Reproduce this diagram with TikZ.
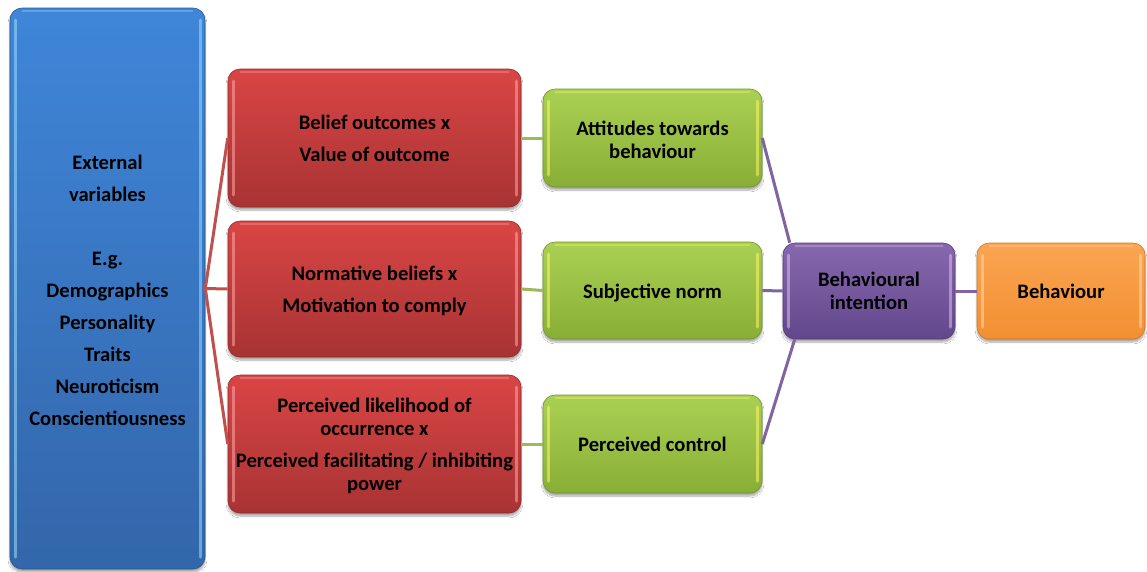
\documentclass[tikz,border=0pt]{standalone}
\usepackage{fontspec}
\setmainfont{Carlito}
\usetikzlibrary{shadows.blur}

\definecolor{blueT}{HTML}{3F86D9}
\definecolor{blueB}{HTML}{3366AA}
\definecolor{redT}{HTML}{DA4545}
\definecolor{redB}{HTML}{A83333}
\definecolor{greenT}{HTML}{AAD053}
\definecolor{greenB}{HTML}{88AE36}
\definecolor{purpT}{HTML}{8668AE}
\definecolor{purpB}{HTML}{63478C}
\definecolor{orgT}{HTML}{FBA552}
\definecolor{orgB}{HTML}{F28F32}
\definecolor{redLine}{HTML}{C0504D}
\definecolor{greenLine}{HTML}{9BBB59}
\definecolor{purpLine}{HTML}{8064A2}

\tikzset{
  box/.style n args={3}{
    rounded corners=12pt, inner sep=0pt, align=center, text=black,
    font=\bfseries\fontsize{20.6}{23}\selectfont,
    top color=#1, bottom color=#2, draw=#2!85!black, line width=0.6pt,
    blur shadow={shadow xshift=0pt, shadow yshift=-3pt, shadow blur steps=6, shadow opacity=35},
    path picture={
      \draw[#3, opacity=0.55, line width=3pt, line cap=round]
        ([xshift=5pt,yshift=-12pt]path picture bounding box.north west) --
        ([xshift=5pt,yshift=12pt]path picture bounding box.south west);
      \draw[#3, opacity=0.55, line width=3pt, line cap=round]
        ([xshift=-5pt,yshift=-12pt]path picture bounding box.north east) --
        ([xshift=-5pt,yshift=12pt]path picture bounding box.south east);
      \draw[#3, opacity=0.35, line width=1.5pt]
        ([xshift=12pt,yshift=-3pt]path picture bounding box.north west) --
        ([xshift=-12pt,yshift=-3pt]path picture bounding box.north east);
    }},
  bluebox/.style={box={blueT}{blueB}{cyan!40}},
  redbox/.style={box={redT}{redB}{red!35!white}},
  greenbox/.style={box={greenT}{greenB}{yellow!60!white}},
  purpbox/.style={box={purpT}{purpB}{violet!25!white}},
  orgbox/.style={box={orgT}{orgB}{orange!30!white}},
  link/.style={line width=3pt},
}

\begin{document}
\begin{tikzpicture}[x=1pt,y=-1pt]
\useasboundingbox[fill=white] (0,0) rectangle (1147,571);

% external variables column
\node[bluebox, minimum width=195pt, minimum height=561pt] (ext) at (107.5,288.5)
  {\rule{0pt}{19pt}External\\[9pt] variables\\[41pt] E.g.\\[9pt] Demographics\\[9pt] Personality\\[9pt] Traits\\[9pt] Neuroticism\\[9pt] Conscientiousness};

% belief products
\node[redbox, minimum width=293pt, minimum height=138pt] (r1) at (374.5,138)
  {Belief outcomes x\\[9pt] Value of outcome};
\node[redbox, minimum width=293pt, minimum height=136pt] (r2) at (374.5,289)
  {\rule{0pt}{19pt}Normative beliefs x\\[9pt] Motivation to comply};
\node[redbox, minimum width=293pt, minimum height=138pt] (r3) at (374.5,444)
  {\rule{0pt}{19pt}Perceived likelihood of\\ occurrence x\\[9pt] Perceived facilitating / inhibiting\\ power};

% determinants
\node[greenbox, minimum width=219pt, minimum height=98pt] (g1) at (652.5,138)
  {\rule{0pt}{19pt}Attitudes towards\\ behaviour};
\node[greenbox, minimum width=219pt, minimum height=97pt] (g2) at (652.5,290.5)
  {\rule{0pt}{19pt}Subjective norm};
\node[greenbox, minimum width=219pt, minimum height=98pt] (g3) at (652.5,444)
  {Perceived control};

% intention and behaviour
\node[purpbox, minimum width=172pt, minimum height=96pt] (bi) at (869,291)
  {Behavioural\\ intention};
\node[orgbox, minimum width=168pt, minimum height=96pt] (bh) at (1061,291)
  {Behaviour};

% connectors
\draw[link, redLine] (r1.west) -- (ext.east) -- (r3.west);
\draw[link, redLine] (ext.east) -- (r2.west);
\draw[link, greenLine] (r1.east) -- (g1.west);
\draw[link, greenLine] (r2.east) -- (g2.west);
\draw[link, greenLine] (r3.east) -- (g3.west);
\draw[link, purpLine] (g1.east) -- ([xshift=7pt]bi.north west);
\draw[link, purpLine] (g3.east) -- ([xshift=12pt]bi.south west);
\draw[link, purpLine] (g2.east) -- (bi.west);
\draw[link, purpLine] (bi.east) -- (bh.west);
\end{tikzpicture}
\end{document}
